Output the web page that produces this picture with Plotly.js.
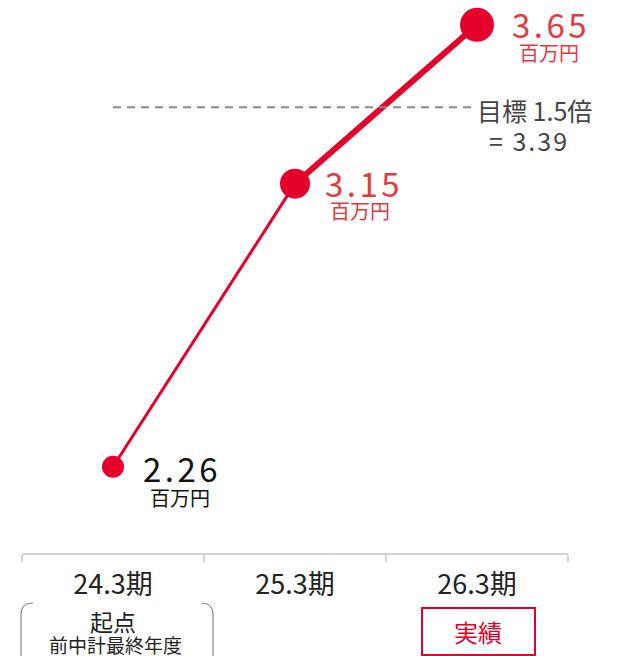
<!DOCTYPE html>
<html>
<head>
<meta charset="utf-8">
<script src="https://cdn.plot.ly/plotly-3.0.1.min.js"></script>
<style>
  html, body { margin: 0; padding: 0; background: #fff; }
  #chart { width: 623px; height: 656px; }
  .annotation[data-index="0"] text { letter-spacing: 3.5px; }
  .annotation[data-index="2"] text { letter-spacing: 3.5px; }
  .annotation[data-index="4"] text { letter-spacing: 3.5px; }
  .annotation[data-index="7"] text { letter-spacing: 2px; }
</style>
</head>
<body>
<div id="chart"></div>
<script>
// ---- data ----
const categories = ['24.3期', '25.3期', '26.3期'];
const values = [2.26, 3.15, 3.65];
const unitLabel = '百万円';
const target = 3.39;
const targetLine1 = '目標 1.5倍';
const targetLine2 = '= 3.39';
const startLabel = '起点';
const startSubLabel = '前中計最終年度';
const actualLabel = '実績';

// ---- styles ----
const RED = '#e4002b';
const LABEL_RED = '#e8383f';
const FONT = '"Noto Sans CJK JP", "Noto Sans", sans-serif';

const traces = [
  { // first segment (thin)
    x: categories.slice(0, 2), y: values.slice(0, 2),
    type: 'scatter', mode: 'lines',
    line: { color: RED, width: 3 },
    hoverinfo: 'skip', cliponaxis: false
  },
  { // second segment (thick)
    x: categories.slice(1, 3), y: values.slice(1, 3),
    type: 'scatter', mode: 'lines',
    line: { color: RED, width: 6 },
    hoverinfo: 'skip', cliponaxis: false
  },
  { // markers
    x: categories, y: values,
    type: 'scatter', mode: 'markers',
    marker: { color: RED, size: [22, 30, 34], opacity: 1, line: { width: 0 } },
    cliponaxis: false
  },
  { // target line
    x: [categories[0], categories[2]], y: [target, target],
    type: 'scatter', mode: 'lines',
    line: { color: '#8a8a8a', width: 2, dash: '8px,6px' },
    hoverinfo: 'skip', cliponaxis: false
  }
];

const valueColors = ['#111111', LABEL_RED, LABEL_RED];
const valShift = [[69, -1, 67, -31], [69, 1, 65, -27], [74, 1, 72, -28]];
const annotations = [];
values.forEach((v, i) => {
  annotations.push({
    x: categories[i], y: v, xref: 'x', yref: 'y',
    text: v.toFixed(2), showarrow: false,
    xanchor: 'center', yanchor: 'middle',
    xshift: valShift[i][0], yshift: valShift[i][1],
    font: { family: FONT, size: 33, color: valueColors[i] }
  });
  annotations.push({
    x: categories[i], y: v, xref: 'x', yref: 'y',
    text: unitLabel, showarrow: false,
    xanchor: 'center', yanchor: 'middle',
    xshift: valShift[i][2], yshift: valShift[i][3],
    font: { family: FONT, size: 20, color: valueColors[i] }
  });
});
annotations.push({
  x: categories[2], y: target, xref: 'x', yref: 'y',
  text: targetLine1, showarrow: false, xanchor: 'center', yanchor: 'middle',
  xshift: 57, yshift: -3,
  font: { family: FONT, size: 25, color: '#444444' }
});
annotations.push({
  x: categories[2], y: target, xref: 'x', yref: 'y',
  text: targetLine2, showarrow: false, xanchor: 'center', yanchor: 'middle',
  xshift: 52, yshift: -33,
  font: { family: FONT, size: 25, color: '#444444' }
});
annotations.push({
  x: categories[0], y: 0, xref: 'x', yref: 'paper',
  text: startLabel, showarrow: false, xanchor: 'center', yanchor: 'middle',
  xshift: 0, yshift: -68,
  font: { family: FONT, size: 23, color: '#222222' }
});
annotations.push({
  x: categories[0], y: 0, xref: 'x', yref: 'paper',
  text: startSubLabel, showarrow: false, xanchor: 'center', yanchor: 'middle',
  xshift: 2, yshift: -91,
  font: { family: FONT, size: 19, color: '#222222' }
});
annotations.push({
  x: categories[2], y: 0, xref: 'x', yref: 'paper',
  text: actualLabel, showarrow: false, xanchor: 'center', yanchor: 'middle',
  xshift: 1, yshift: -78,
  font: { family: FONT, size: 24, color: RED }
});

const shapes = [
  { // left bracket of 起点 box
    type: 'path', xref: 'paper', yref: 'paper',
    xsizemode: 'pixel', ysizemode: 'pixel', xanchor: 0, yanchor: 0,
    path: 'M -1,-120 L -1,-62 Q -1,-50 11,-50',
    line: { color: '#8a8a8a', width: 1.2 }
  },
  { // right bracket of 起点 box
    type: 'path', xref: 'paper', yref: 'paper',
    xsizemode: 'pixel', ysizemode: 'pixel', xanchor: 0, yanchor: 0,
    path: 'M 191,-120 L 191,-62 Q 191,-50 179,-50',
    line: { color: '#8a8a8a', width: 1.2 }
  },
  { // 実績 box
    type: 'rect', xref: 'paper', yref: 'paper',
    xsizemode: 'pixel', ysizemode: 'pixel', xanchor: 0, yanchor: 0,
    x0: 400, x1: 513, y0: -55, y1: -102,
    line: { color: RED, width: 2 }, fillcolor: 'rgba(0,0,0,0)'
  }
];

const layout = {
  width: 623, height: 656,
  margin: { l: 22, r: 55, t: 0, b: 103 },
  paper_bgcolor: '#ffffff', plot_bgcolor: '#ffffff',
  showlegend: false,
  font: { family: FONT },
  xaxis: {
    type: 'category', range: [-0.5, 2.5],
    showgrid: false, zeroline: false,
    showline: true, linecolor: '#d4d4d4', linewidth: 1.5,
    ticks: 'outside', tickson: 'boundaries', ticklen: 7,
    tickcolor: '#d4d4d4', tickwidth: 1.5,
    ticklabelstandoff: 7,
    tickfont: { family: FONT, size: 27, color: '#222222' },
    fixedrange: true
  },
  yaxis: {
    range: [1.9886, 3.7276],
    visible: false, showgrid: false, zeroline: false, fixedrange: true
  },
  annotations: annotations,
  shapes: shapes
};

Plotly.newPlot('chart', traces, layout, { displayModeBar: false, staticPlot: true });
</script>
</body>
</html>
